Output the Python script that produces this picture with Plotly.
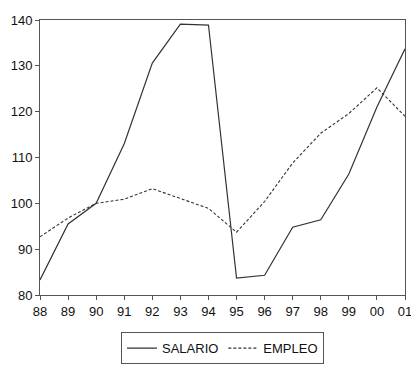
import plotly.graph_objects as go

years = ["88", "89", "90", "91", "92", "93", "94", "95", "96", "97", "98", "99", "00", "01"]
salario = [83.3, 95.5, 100.0, 113.0, 130.6, 139.1, 138.9, 83.7, 84.3, 94.8, 96.4, 106.4, 121.0, 133.7]
empleo = [92.7, 96.8, 100.0, 100.9, 103.2, 101.1, 98.9, 93.7, 100.4, 108.8, 115.3, 119.6, 125.2, 119.0]
y_ticks = [80, 90, 100, 110, 120, 130, 140]

fig = go.Figure()
fig.add_trace(go.Scatter(x=years, y=salario, mode="lines", name="SALARIO",
                         line=dict(color="#333333", width=1.2)))
fig.add_trace(go.Scatter(x=years, y=empleo, mode="lines", name="EMPLEO",
                         line=dict(color="#333333", width=1.1, dash="3px,2px")))

fig.update_layout(
    width=411, height=365,
    margin=dict(l=40, r=6, t=20, b=70),
    paper_bgcolor="white", plot_bgcolor="white",
    font=dict(family="Liberation Sans, Arial, sans-serif", size=13, color="#111111"),
    showlegend=True,
    legend=dict(orientation="h", x=0.5, xanchor="center",
                yref="container", y=0.09, yanchor="top",
                bordercolor="#555555", borderwidth=1, font=dict(size=13),
                tracegroupgap=0),
)
fig.update_xaxes(type="category", range=[0, 13], showline=True, linecolor="#555555",
                 linewidth=1, mirror=True, ticks="outside", ticklen=4, tickcolor="#555555",
                 showgrid=False, zeroline=False, tickfont=dict(size=13), automargin=False)
fig.update_yaxes(range=[80, 140], tickvals=y_ticks, showline=True, linecolor="#555555",
                 linewidth=1, mirror=True, ticks="outside", ticklen=4, tickcolor="#555555",
                 showgrid=False, zeroline=False, tickfont=dict(size=13), automargin=False)

fig.write_html("out.html")
